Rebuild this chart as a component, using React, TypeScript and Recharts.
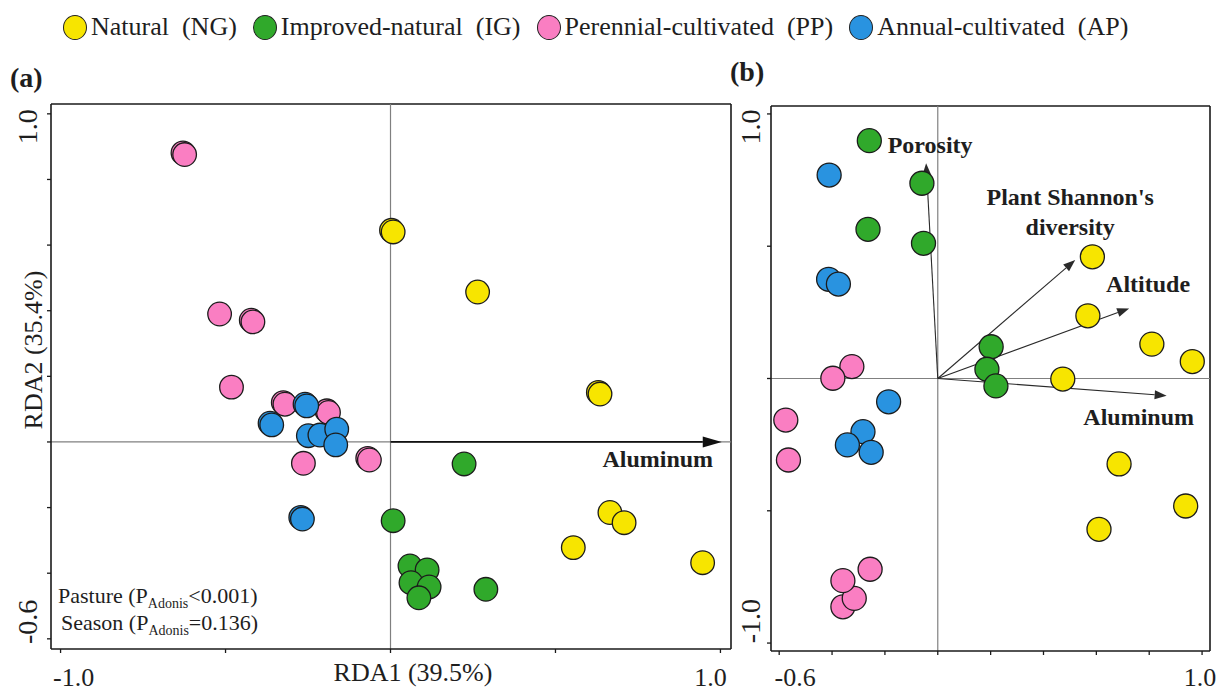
import { ScatterChart, Scatter, XAxis, YAxis, ReferenceLine } from "recharts";

type Site = { x: number; y: number };

const GROUPS = [
  "Natural  (NG)",
  "Improved-natural  (IG)",
  "Perennial-cultivated  (PP)",
  "Annual-cultivated  (AP)",
];
const COLORS = ["#f7e500", "#30a92b", "#fa7ec2", "#2993e0"];

// (a) site scores on RDA1 / RDA2 (overlapping samples listed first)
const naturalA: Site[] = [
  { x: 0.003, y: 0.645 },
  { x: 0.008, y: 0.64 },
  { x: 0.264, y: 0.457 },
  { x: 0.63, y: 0.151 },
  { x: 0.635, y: 0.146 },
  { x: 0.665, y: -0.215 },
  { x: 0.708, y: -0.246 },
  { x: 0.554, y: -0.322 },
  { x: 0.946, y: -0.368 },
];
const improvedA: Site[] = [
  { x: 0.008, y: -0.24 },
  { x: 0.223, y: -0.067 },
  { x: 0.059, y: -0.378 },
  { x: 0.111, y: -0.39 },
  { x: 0.062, y: -0.429 },
  { x: 0.117, y: -0.442 },
  { x: 0.086, y: -0.475 },
  { x: 0.289, y: -0.449 },
];
const perennialA: Site[] = [
  { x: -0.629, y: 0.881 },
  { x: -0.624, y: 0.876 },
  { x: -0.518, y: 0.39 },
  { x: -0.422, y: 0.371 },
  { x: -0.417, y: 0.366 },
  { x: -0.482, y: 0.167 },
  { x: -0.325, y: 0.12 },
  { x: -0.32, y: 0.115 },
  { x: -0.193, y: 0.095 },
  { x: -0.188, y: 0.09 },
  { x: -0.264, y: -0.065 },
  { x: -0.069, y: -0.05 },
  { x: -0.064, y: -0.055 },
];
const annualA: Site[] = [
  { x: -0.259, y: 0.115 },
  { x: -0.254, y: 0.11 },
  { x: -0.365, y: 0.057 },
  { x: -0.36, y: 0.052 },
  { x: -0.249, y: 0.019 },
  { x: -0.214, y: 0.021 },
  { x: -0.163, y: 0.039 },
  { x: -0.166, y: -0.009 },
  { x: -0.272, y: -0.23 },
  { x: -0.267, y: -0.235 },
];

// (b) site scores with environmental fitting
const naturalB: Site[] = [
  { x: 0.585, y: 0.46 },
  { x: 0.568, y: 0.237 },
  { x: 0.81, y: 0.13 },
  { x: 0.963, y: 0.064 },
  { x: 0.473, y: -0.002 },
  { x: 0.686, y: -0.323 },
  { x: 0.938, y: -0.482 },
  { x: 0.61, y: -0.57 },
];
const improvedB: Site[] = [
  { x: -0.259, y: 0.899 },
  { x: -0.06, y: 0.738 },
  { x: -0.264, y: 0.564 },
  { x: -0.054, y: 0.511 },
  { x: 0.202, y: 0.12 },
  { x: 0.186, y: 0.035 },
  { x: 0.22, y: -0.028 },
];
const perennialB: Site[] = [
  { x: -0.325, y: 0.045 },
  { x: -0.397, y: 0.001 },
  { x: -0.575, y: -0.157 },
  { x: -0.565, y: -0.308 },
  { x: -0.359, y: -0.863 },
  { x: -0.316, y: -0.831 },
  { x: -0.359, y: -0.764 },
  { x: -0.256, y: -0.721 },
];
const annualB: Site[] = [
  { x: -0.411, y: 0.769 },
  { x: -0.413, y: 0.375 },
  { x: -0.376, y: 0.357 },
  { x: -0.186, y: -0.088 },
  { x: -0.283, y: -0.201 },
  { x: -0.342, y: -0.251 },
  { x: -0.252, y: -0.279 },
];

// environmental vectors (b)
const envLabels = [["Porosity"], ["Plant Shannon's", "diversity"], ["Altitude"], ["Aluminum"]];
const envX = [-0.044, 0.52, 0.724, 0.866];
const envY = [0.814, 0.448, 0.265, -0.065];
// aluminum vector (a)
const alX = 1.004;
const alY = 0;

const xTicksA = [-1, -0.5, 0, 0.5, 1];
const yTicksA = [-0.6, -0.4, -0.2, 0, 0.2, 0.4, 0.6, 0.8, 1];
const xTicksB = [-0.6, -0.4, -0.2, 0, 0.2, 0.4, 0.6, 0.8, 1];
const yTicksB = [-1, -0.5, 0, 0.5, 1];
const xLabeledA = [-1, 1];
const yLabeledA = [-0.6, 1];
const xLabeledB = [-0.6, 1];
const yLabeledB = [-1, 1];

const X_DOMAIN_A: [number, number] = [-1.029, 1.032];
const Y_DOMAIN_A: [number, number] = [-0.631, 1.03];
const X_DOMAIN_B: [number, number] = [-0.631, 1.03];
const Y_DOMAIN_B: [number, number] = [-1.03, 1.03];

const FONT = "'Liberation Serif', 'Times New Roman', serif";
const INK = "#1e1e1e";
const FRAME = "#1a1a1a";
const CROSS = "#808080";

// label nudges along the axis (px), keyed by tick value
const xNudgeA: Record<string, number> = { "-1": 13, "1": -10 };
const yNudgeA: Record<string, number> = { "-0.6": -17, "1": 13 };
const xNudgeB: Record<string, number> = { "-0.6": 16, "1": -2 };
const yNudgeB: Record<string, number> = { "-1": -22, "1": 13 };
const envShift = [
  { dx: 4, dy: -18 },
  { dx: -5, dy: -63 },
  { dx: 19, dy: -24 },
  { dx: -28, dy: 21 },
];

function XTick(props: any) {
  const { x, y, payload, shown, nudge, dy } = props;
  const v = payload.value;
  if (!shown.includes(v)) return <g />;
  return (
    <text
      x={x + (nudge[String(v)] ?? 0)}
      y={y + dy}
      textAnchor="middle"
      dominantBaseline="central"
      fontSize={26}
      fill={INK}
    >
      {v.toFixed(1)}
    </text>
  );
}

function YTick(props: any) {
  const { x, y, payload, shown, nudge, dx } = props;
  const v = payload.value;
  if (!shown.includes(v)) return <g />;
  const cx = x + dx;
  const cy = y + (nudge[String(v)] ?? 0);
  return (
    <text
      x={cx}
      y={cy}
      transform={`rotate(-90 ${cx} ${cy})`}
      textAnchor="middle"
      dominantBaseline="central"
      fontSize={28}
      fill={INK}
    >
      {v.toFixed(1)}
    </text>
  );
}

const dot = (fill: string, r: number) => (p: any) => (
  <circle cx={p.cx} cy={p.cy} r={r} fill={fill} stroke="#1c1c1c" strokeWidth={1.3} />
);

// line from the origin with a filled head and a bold caption near the tip
const arrow =
  (head: number, half: number, color: string, width: number, lines: string[], dx: number, dy: number) =>
  (p: any) => {
    const { x1, y1, x2, y2 } = p;
    const len = Math.hypot(x2 - x1, y2 - y1) || 1;
    const ux = (x2 - x1) / len;
    const uy = (y2 - y1) / len;
    const bx = x2 - ux * head;
    const by = y2 - uy * head;
    const pts = `${x2},${y2} ${bx - uy * half},${by + ux * half} ${bx + uy * half},${by - ux * half}`;
    return (
      <g>
        <line x1={x1} y1={y1} x2={bx} y2={by} stroke={color} strokeWidth={width} />
        <polygon points={pts} fill={color} />
        {lines.map((t, i) => (
          <text
            key={t}
            x={x2 + dx}
            y={y2 + dy + i * 30}
            textAnchor="middle"
            dominantBaseline="central"
            fontWeight="bold"
            fontSize={24}
            fill={INK}
          >
            {t}
          </text>
        ))}
      </g>
    );
  };

function Legend() {
  return (
    <div
      style={{
        position: "absolute",
        left: 63,
        top: 12,
        display: "flex",
        alignItems: "center",
        gap: 16,
        fontSize: 26,
        color: INK,
        whiteSpace: "pre",
      }}
    >
      {GROUPS.map((g, i) => (
        <div key={g} style={{ display: "flex", alignItems: "center", gap: 4 }}>
          <span
            style={{
              width: 24,
              height: 25,
              borderRadius: "50%",
              background: COLORS[i],
              border: "1.5px solid #222",
              boxSizing: "border-box",
              display: "inline-block",
            }}
          />
          <span>{g}</span>
        </div>
      ))}
    </div>
  );
}

export default function App() {
  const seriesA = [naturalA, improvedA, perennialA, annualA];
  const seriesB = [naturalB, improvedB, perennialB, annualB];

  return (
    <div
      style={{
        position: "absolute",
        left: 0,
        top: 0,
        width: 1224,
        height: 693,
        background: "#fff",
        fontFamily: FONT,
      }}
    >
      <Legend />

      <div style={{ position: "absolute", left: 0, top: 0 }}>
        <ScatterChart width={740} height={693} margin={{ top: 104, right: 9, bottom: 0, left: 0 }}>
          <XAxis
            type="number"
            dataKey="x"
            domain={X_DOMAIN_A}
            ticks={xTicksA}
            allowDataOverflow
            height={44}
            tickSize={4}
            axisLine={{ stroke: FRAME, strokeWidth: 1.6 }}
            tickLine={{ stroke: FRAME, strokeWidth: 1.3 }}
            tick={(p: any) => <XTick {...p} shown={xLabeledA} nudge={xNudgeA} dy={22} />}
          />
          <YAxis
            type="number"
            dataKey="y"
            domain={Y_DOMAIN_A}
            ticks={yTicksA}
            allowDataOverflow
            width={51}
            tickSize={4}
            axisLine={{ stroke: FRAME, strokeWidth: 1.6 }}
            tickLine={{ stroke: FRAME, strokeWidth: 1.3 }}
            tick={(p: any) => <YTick {...p} shown={yLabeledA} nudge={yNudgeA} dx={-17} />}
          />
          <ReferenceLine y={Y_DOMAIN_A[1]} stroke={FRAME} strokeWidth={1.6} />
          <ReferenceLine x={X_DOMAIN_A[1]} stroke={FRAME} strokeWidth={1.6} />
          <ReferenceLine x={0} stroke={CROSS} strokeWidth={1.2} />
          <ReferenceLine y={0} stroke={CROSS} strokeWidth={1.2} />
          <ReferenceLine
            segment={[
              { x: 0, y: 0 },
              { x: alX, y: alY },
            ]}
            shape={arrow(19, 5.5, "#111", 1.7, ["Aluminum"], -64, 17)}
          />
          {seriesA.map((d, i) => (
            <Scatter
              key={GROUPS[i]}
              name={GROUPS[i]}
              data={d}
              shape={dot(COLORS[i], 11.8)}
              isAnimationActive={false}
            />
          ))}
          <text x={10} y={87} fontSize={28} fontWeight="bold" fill={INK}>
            (a)
          </text>
          <text
            x={33}
            y={350}
            transform="rotate(-90 33 350)"
            textAnchor="middle"
            dominantBaseline="central"
            fontSize={26}
            fill={INK}
          >
            RDA2 (35.4%)
          </text>
          <text x={413} y={672} textAnchor="middle" dominantBaseline="central" fontSize={26} fill={INK}>
            RDA1 (39.5%)
          </text>
          <text x={58} y={603} fontSize={22} fill={INK}>
            Pasture (P
            <tspan fontSize={14} dy={5}>
              Adonis
            </tspan>
            <tspan dy={-5}>{"<0.001)"}</tspan>
          </text>
          <text x={61} y={630} fontSize={22} fill={INK}>
            Season (P
            <tspan fontSize={14} dy={5}>
              Adonis
            </tspan>
            <tspan dy={-5}>=0.136)</tspan>
          </text>
        </ScatterChart>
      </div>

      <div style={{ position: "absolute", left: 720, top: 0 }}>
        <ScatterChart width={504} height={693} margin={{ top: 106, right: 14, bottom: 0, left: 0 }}>
          <XAxis
            type="number"
            dataKey="x"
            domain={X_DOMAIN_B}
            ticks={xTicksB}
            allowDataOverflow
            height={42}
            tickSize={4}
            axisLine={{ stroke: FRAME, strokeWidth: 1.6 }}
            tickLine={{ stroke: FRAME, strokeWidth: 1.3 }}
            tick={(p: any) => <XTick {...p} shown={xLabeledB} nudge={xNudgeB} dy={20} />}
          />
          <YAxis
            type="number"
            dataKey="y"
            domain={Y_DOMAIN_B}
            ticks={yTicksB}
            allowDataOverflow
            width={51}
            tickSize={4}
            axisLine={{ stroke: FRAME, strokeWidth: 1.6 }}
            tickLine={{ stroke: FRAME, strokeWidth: 1.3 }}
            tick={(p: any) => <YTick {...p} shown={yLabeledB} nudge={yNudgeB} dx={-14} />}
          />
          <ReferenceLine y={Y_DOMAIN_B[1]} stroke={FRAME} strokeWidth={1.6} />
          <ReferenceLine x={X_DOMAIN_B[1]} stroke={FRAME} strokeWidth={1.6} />
          <ReferenceLine x={0} stroke={CROSS} strokeWidth={1.2} />
          <ReferenceLine y={0} stroke={CROSS} strokeWidth={1.2} />
          {envLabels.map((lines, i) => (
            <ReferenceLine
              key={lines[0]}
              segment={[
                { x: 0, y: 0 },
                { x: envX[i], y: envY[i] },
              ]}
              shape={arrow(12, 4.5, "#2a2a2a", 1.1, lines, envShift[i].dx, envShift[i].dy)}
            />
          ))}
          {seriesB.map((d, i) => (
            <Scatter
              key={GROUPS[i]}
              name={GROUPS[i]}
              data={d}
              shape={dot(COLORS[i], 12)}
              isAnimationActive={false}
            />
          ))}
          <text x={10} y={81} fontSize={28} fontWeight="bold" fill={INK}>
            (b)
          </text>
        </ScatterChart>
      </div>
    </div>
  );
}
